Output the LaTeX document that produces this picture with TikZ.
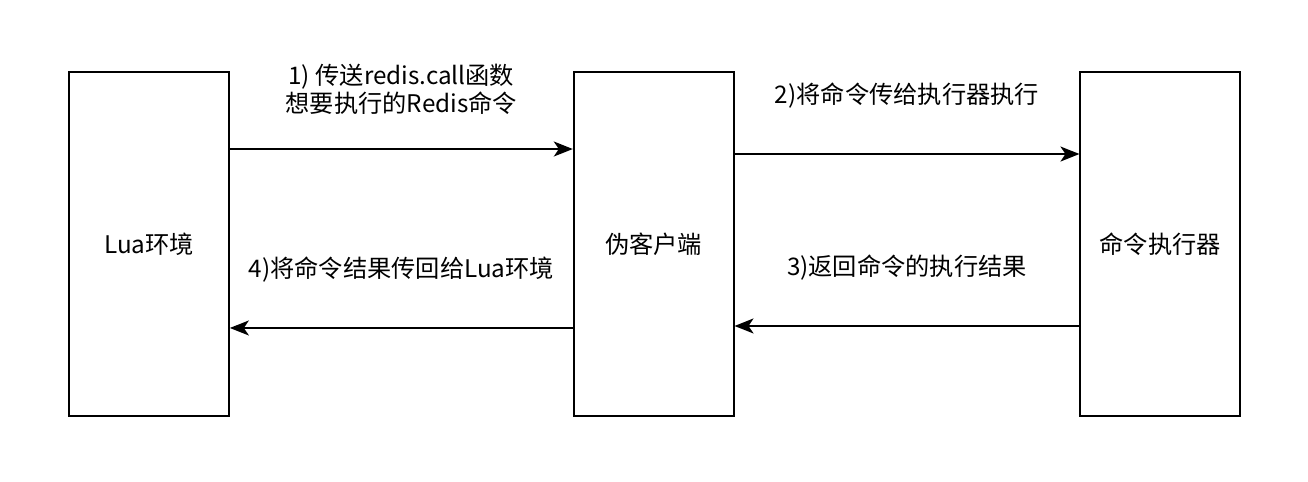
\documentclass[tikz,border=0pt]{standalone}
\usepackage{fontspec}
\newfontfamily\cjk{Noto Sans CJK SC}
\usepackage{tikz}
\usetikzlibrary{positioning, arrows.meta}

\begin{document}
\begin{tikzpicture}[
    x=0.02cm, y=-0.02cm,
    >={Stealth[length=0.38cm, width=0.3cm, inset=0.1cm]},
    node distance=6.86cm,
    every node/.style={font=\cjk\fontsize{13.8}{16}\selectfont},
    block/.style={draw, line width=1pt, minimum width=3.2cm, minimum height=6.88cm, inner sep=0pt},
    msg/.style={->, line width=1pt},
    lbl/.style={midway, align=center}
]
\useasboundingbox (0,0) rectangle (1308,482);

% 三个模块
\node[block] (lua) at (149,244) {Lua环境};
\node[block, right=of lua] (client) {伪客户端};
\node[block, right=6.9cm of client] (exec) {命令执行器};

% 请求方向
\draw[msg] ([yshift=1.9cm]lua.east) -- ([yshift=1.9cm]client.west)
    node[lbl, yshift=1.2cm] {1) 传送redis.call函数\\想要执行的Redis命令};
\draw[msg] ([yshift=1.8cm]client.east) -- ([yshift=1.8cm]exec.west)
    node[lbl, yshift=1.16cm] {2)将命令传给执行器执行};

% 返回方向
\draw[msg] ([yshift=-1.64cm]exec.west) -- ([yshift=-1.64cm]client.east)
    node[lbl, yshift=1.16cm] {3)返回命令的执行结果};
\draw[msg] ([yshift=-1.68cm]client.west) -- ([yshift=-1.68cm]lua.east)
    node[lbl, yshift=1.16cm] {4)将命令结果传回给Lua环境};

\end{tikzpicture}
\end{document}
